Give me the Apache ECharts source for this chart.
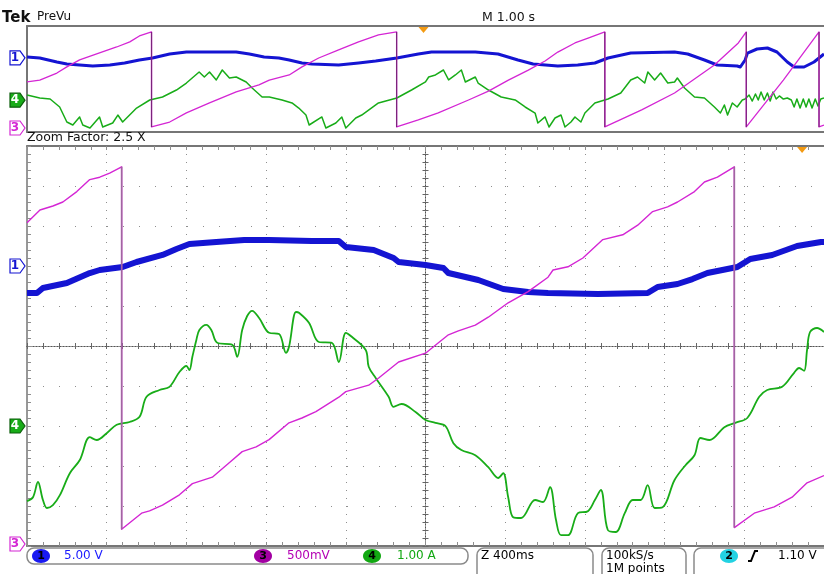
<!DOCTYPE html>
<html>
<head>
<meta charset="utf-8">
<script src="https://cdn.jsdelivr.net/npm/echarts@6/dist/echarts.min.js"></script>
<style>
  html, body { margin: 0; padding: 0; background: #ffffff; }
  #scope { width: 824px; height: 574px; }
</style>
</head>
<body>
<div id="scope"></div>
<script>
// ---- Channel settings: units per division and marker offset (divisions) ----
const CH1 = { name: '1', scale: 5.0, offset: 2, color: '#1414d2', text: '5.00 V' };
const CH3 = { name: '3', scale: 0.5, offset: -5, color: '#d426d4', text: '500mV' };
const CH4 = { name: '4', scale: 1.0, offset: -2, color: '#18ac18', text: '1.00 A' };

// Horizontal settings
const recordSpan = [-5, 5];    // M 1.00 s/div, seconds around trigger
const zoomSpan = [-2, 2];      // Z 400ms/div, seconds around zoom centre
const recordDiv = 1;
const zoomDiv = 0.4;
const triggerInZoom = 1.89;    // trigger instant seen inside the zoom window (s)

// ---- Zoomed traces: [time s, value] ----
const zoomCh1 = [
  [-2.0,-3.38],[-1.95,-3.38],[-1.92,-2.75],[-1.80,-2.13],[-1.685,-0.88],[-1.635,-0.5],
  [-1.52,-0.13],[-1.45,0.5],[-1.32,1.38],[-1.25,2.13],[-1.185,2.75],[-1.05,3.0],
  [-0.91,3.25],[-0.785,3.25],[-0.57,3.13],[-0.435,3.13],[-0.40,2.38],[-0.26,2.0],
  [-0.16,1.0],[-0.135,0.5],[0,0.13],[0.09,-0.25],[0.115,-0.88],[0.265,-1.75],
  [0.39,-2.88],[0.515,-3.25],[0.615,-3.38],[0.865,-3.5],[1.115,-3.38],[1.165,-2.63],
  [1.265,-2.25],[1.34,-1.63],[1.415,-0.88],[1.565,-0.13],[1.63,0.88],[1.74,1.38],
  [1.865,2.5],[1.985,3.0],[2.0,3.0]
];
const zoomCh3 = [
  [-2.0,4.04],[-1.935,4.2],[-1.87,4.25],[-1.82,4.3],[-1.75,4.43],[-1.685,4.58],
  [-1.635,4.61],[-1.585,4.66],[-1.525,4.74],[-1.525,0.21],[-1.425,0.41],[-1.385,0.44],
  [-1.32,0.51],[-1.235,0.64],[-1.17,0.78],[-1.07,0.86],[-0.985,1.04],[-0.92,1.18],
  [-0.85,1.24],[-0.785,1.33],[-0.685,1.54],[-0.62,1.6],[-0.55,1.68],[-0.435,1.86],
  [-0.40,1.93],[-0.285,2.01],[-0.235,2.1],[-0.135,2.3],[0,2.41],[0.065,2.54],
  [0.115,2.64],[0.165,2.69],[0.25,2.76],[0.315,2.86],[0.415,3.04],[0.515,3.18],
  [0.615,3.36],[0.64,3.45],[0.715,3.49],[0.79,3.6],[0.89,3.83],[0.99,3.89],
  [1.065,4.01],[1.14,4.18],[1.215,4.24],[1.265,4.3],[1.35,4.43],[1.40,4.55],
  [1.465,4.61],[1.55,4.74],[1.55,0.23],[1.65,0.41],[1.75,0.49],[1.84,0.61],
  [1.915,0.79],[2.0,0.88]
];
const zoomCh4 = [
  [-2.0,-1.88],[-1.97,-1.78],[-1.945,-1.4],[-1.92,-1.85],[-1.90,-2.05],[-1.87,-1.98],
  [-1.835,-1.73],[-1.785,-1.18],[-1.735,-0.85],[-1.685,-0.28],[-1.65,-0.35],[-1.60,-0.18],
  [-1.55,0.03],[-1.485,0.1],[-1.435,0.23],[-1.40,0.73],[-1.335,0.9],[-1.285,0.98],
  [-1.235,1.35],[-1.20,1.5],[-1.185,1.4],[-1.17,1.73],[-1.15,2.15],[-1.135,2.4],
  [-1.10,2.53],[-1.075,2.4],[-1.045,2.08],[-0.97,2.03],[-0.945,1.73],[-0.92,2.4],
  [-0.895,2.75],[-0.87,2.88],[-0.835,2.7],[-0.785,2.33],[-0.735,2.3],[-0.70,1.83],
  [-0.685,1.98],[-0.65,2.85],[-0.635,2.83],[-0.585,2.58],[-0.535,2.1],[-0.47,2.08],
  [-0.435,1.6],[-0.40,2.33],[-0.37,2.23],[-0.30,1.9],[-0.285,1.48],[-0.25,1.2],
  [-0.185,0.73],[-0.16,0.48],[-0.12,0.55],[-0.05,0.35],[0,0.15],[0.05,0.08],
  [0.10,0],[0.14,-0.43],[0.18,-0.6],[0.25,-0.73],[0.315,-1.03],[0.365,-1.3],
  [0.39,-1.18],[0.415,-1.78],[0.44,-2.28],[0.48,-2.3],[0.55,-1.85],[0.59,-1.9],
  [0.625,-1.53],[0.655,-2.35],[0.68,-2.73],[0.715,-2.73],[0.765,-2.18],[0.815,-2.13],
  [0.85,-1.85],[0.88,-1.6],[0.915,-2.6],[0.955,-2.65],[1.0,-2.18],[1.04,-1.85],
  [1.08,-1.85],[1.115,-1.48],[1.15,-2.05],[1.19,-2.03],[1.25,-1.35],[1.305,-0.98],
  [1.35,-0.73],[1.38,-0.3],[1.425,-0.35],[1.50,-0.03],[1.555,0.08],[1.615,0.2],
  [1.675,0.73],[1.715,0.9],[1.79,0.98],[1.85,1.33],[1.875,1.45],[1.90,1.38],
  [1.915,1.9],[1.93,2.35],[1.965,2.45],[2.0,2.35]
];

// ---- Full record traces: [time s, value] ----
const recCh1 = [
  [-5.0,0.38],[-4.84,-0.09],[-4.625,-1.98],[-4.5,-2.92],[-4.34,-3.4],[-4.175,-3.87],
  [-3.96,-3.4],[-3.775,-2.45],[-3.59,-1.04],[-3.425,-0.09],[-3.21,1.79],[-3.0,2.74],
  [-2.71,2.74],[-2.375,2.74],[-2.21,1.79],[-2.025,0.38],[-1.84,-0.09],[-1.71,-1.04],
  [-1.55,-2.45],[-1.425,-2.92],[-1.09,-3.4],[-0.84,-2.45],[-0.625,-1.51],[-0.36,-0.09],
  [-0.09,1.79],[0.075,2.74],[0.625,2.74],[0.91,1.79],[1.16,-1.04],[1.35,-2.92],
  [1.66,-3.87],[1.91,-3.4],[2.125,-2.45],[2.29,-0.09],[2.575,2.26],[3.125,2.74],
  [3.29,1.79],[3.5,-1.04],[3.66,-3.4],[3.91,-3.87],[3.95,-4.34],[4.01,-1.04],
  [4.04,2.26],[4.16,4.15],[4.29,4.62],[4.41,2.74],[4.54,-1.98],[4.625,-4.34],
  [4.75,-4.34],[4.875,-1.98],[5.0,1.79]
];
const recCh3 = [
  [-5.0,2.36],[-4.84,2.45],[-4.625,2.78],[-4.5,3.07],[-4.34,3.4],[-4.09,3.73],
  [-3.875,4.01],[-3.71,4.25],[-3.59,4.53],[-3.4375,4.72],[-3.4375,0.24],[-3.21,0.47],
  [-3.0,0.9],[-2.71,1.37],[-2.375,1.89],[-2.09,2.22],[-1.96,2.45],[-1.71,2.69],
  [-1.55,3.07],[-1.34,3.49],[-1.09,3.87],[-0.84,4.25],[-0.59,4.58],[-0.3625,4.72],
  [-0.3625,0.24],[-0.09,0.57],[0.16,0.9],[0.54,1.51],[0.79,1.93],[1.04,2.45],
  [1.29,2.92],[1.5,3.35],[1.66,3.77],[1.875,4.2],[2.04,4.43],[2.25,4.72],
  [2.25,0.24],[2.7125,1.04],[3.125,1.84],[3.625,3.16],[3.925,4.2],[4.025,4.72],
  [4.025,0.24],[4.49,2.45],[4.9375,4.72],[4.9375,0.24],[5.0,0.33]
];
const recCh4 = [
  [-5.0,0.49],[-4.84,0.21],[-4.71,0.11],[-4.59,-0.64],[-4.5,-2.06],[-4.425,-2.34],
  [-4.34,-1.58],[-4.3,-2.34],[-4.21,-2.62],[-4.09,-1.58],[-4.05,-2.53],[-3.925,-2.15],
  [-3.86,-1.4],[-3.8,-2.06],[-3.625,-0.74],[-3.46,0.02],[-3.3,0.3],[-3.125,0.96],
  [-3.0,1.62],[-2.84,2.66],[-2.775,2.19],[-2.71,2.66],[-2.625,1.91],[-2.55,2.85],
  [-2.46,2.09],[-2.375,2.19],[-2.25,1.72],[-2.175,1.15],[-2.05,0.3],[-1.96,0.3],
  [-1.8,0.02],[-1.675,-0.26],[-1.59,-0.74],[-1.5,-1.4],[-1.46,-2.34],[-1.3,-1.58],
  [-1.25,-2.62],[-1.125,-2.15],[-1.05,-1.58],[-1.0,-2.62],[-0.875,-1.68],[-0.8,-1.4],
  [-0.59,-0.26],[-0.36,0.21],[-0.175,0.96],[0,1.72],[0.04,2.19],[0.125,2.38],
  [0.225,2.85],[0.29,1.91],[0.375,2.38],[0.45,2.85],[0.5,1.72],[0.625,2.19],
  [0.66,1.62],[0.79,0.96],[0.95,0.3],[1.125,0.02],[1.25,-0.64],[1.375,-1.21],
  [1.41,-2.15],[1.5,-1.58],[1.55,-2.53],[1.625,-1.68],[1.7,-1.4],[1.75,-2.53],
  [1.825,-2.06],[1.875,-1.58],[1.95,-2.06],[2.0,-1.21],[2.125,-0.26],[2.29,0.11],
  [2.45,0.68],[2.575,1.91],[2.66,2.19],[2.75,1.62],[2.79,2.66],[2.875,1.91],
  [2.95,2.57],[3.04,1.62],[3.125,1.72],[3.16,2.09],[3.25,1.15],[3.375,0.3],
  [3.5,0.21],[3.625,-0.64],[3.7,-1.21],[3.75,-0.45],[3.79,-1.4],[3.85,-0.26],
  [3.91,-0.64],[3.975,0.02],[4.01,0.11],[4.06,0.49],[4.1,-0.08],[4.14,0.58],
  [4.175,0.02],[4.21,0.77],[4.25,0.02],[4.29,0.68],[4.325,-0.08],[4.36,0.77],
  [4.4,0.11],[4.44,0.4],[4.49,0.11],[4.54,0.21],[4.59,0.02],[4.625,-0.64],
  [4.66,0.11],[4.7,-0.74],[4.74,0.11],[4.775,-0.64],[4.81,0.11],[4.85,-0.74],
  [4.89,0.11],[4.925,-0.55],[4.96,0.11],[5.0,0.21]
];

// ---- Helpers ----
const FONT = '"DejaVu Sans", Verdana, sans-serif';

// Convert a trace to screen divisions using the channel scale and offset
function toDiv(points, ch) {
  return points.map(([t, v]) => [t, v === '-' ? '-' : v / ch.scale + ch.offset]);
}
// Vertical retrace segments (two consecutive samples at the same instant)
function retraces(points) {
  const out = [];
  for (let i = 1; i < points.length; i++) {
    if (points[i][0] === points[i - 1][0]) {
      out.push(points[i - 1], points[i], [points[i][0], '-']);
    }
  }
  return out;
}

const GRAT = '#8e8e8e';
const BORDER = '#767676';

function borderAxis(grid, pos, span, interval, withTicks, splitType) {
  return {
    type: 'value', gridIndex: grid, position: pos, min: span[0], max: span[1], interval: interval,
    axisLine: { show: true, onZero: false, lineStyle: { color: BORDER, width: 2 } },
    axisTick: { show: withTicks, inside: true, length: 4, lineStyle: { color: GRAT } },
    minorTick: { show: withTicks, splitNumber: 5, length: 4, lineStyle: { color: GRAT } },
    axisLabel: { show: false },
    splitLine: splitType ? { show: true, lineStyle: { color: GRAT, width: 1, type: splitType } } : { show: false }
  };
}
function centreAxis(grid, span, interval, zeroIndex, inside) {
  return {
    type: 'value', gridIndex: grid, min: span[0], max: span[1], interval: interval,
    axisLine: { show: true, onZero: true, onZeroAxisIndex: zeroIndex,
      lineStyle: { color: '#555555', width: 1, type: [1, 2] } },
    axisTick: { show: true, inside: inside, length: 3, lineStyle: { color: '#666666' } },
    minorTick: { show: true, splitNumber: 5, length: 3, lineStyle: { color: '#666666' } },
    axisLabel: { show: false },
    splitLine: { show: false }
  };
}

const xAxes = [
  borderAxis(0, 'bottom', recordSpan, recordDiv, false, null),          // 0
  borderAxis(0, 'top', recordSpan, recordDiv, false, null),             // 1
  borderAxis(1, 'bottom', zoomSpan, zoomDiv, true, [1, 7]),             // 2
  borderAxis(1, 'top', zoomSpan, zoomDiv, true, null),                  // 3
  centreAxis(1, zoomSpan, zoomDiv, 1, true),                            // 4
  centreAxis(1, zoomSpan, zoomDiv, 1, false)                            // 5
];
const yAxes = [
  borderAxis(0, 'left', [-5, 5], 1, false, null),                       // 0
  borderAxis(1, 'left', [-5, 5], 1, true, [1, 15]),                     // 1
  centreAxis(1, [-5, 5], 1, 2, true),                                   // 2
  centreAxis(1, [-5, 5], 1, 2, false)                                   // 3
];
yAxes[1].axisLine.lineStyle.width = 1.5;

function trace(points, ch, xi, yi, width, z, smooth) {
  return {
    type: 'line', xAxisIndex: xi, yAxisIndex: yi, data: toDiv(points, ch),
    showSymbol: false, symbol: 'none', silent: true, z: z, clip: true,
    smooth: smooth || false,
    lineStyle: { color: ch.color, width: width, join: 'round' }
  };
}
function retraceSeries(points, ch, xi, yi, color, width) {
  return {
    type: 'line', xAxisIndex: xi, yAxisIndex: yi, data: retraces(toDiv(points, ch)),
    showSymbol: false, symbol: 'none', silent: true, z: 6, connectNulls: false,
    lineStyle: { color: color, width: width }
  };
}

const chart = echarts.init(document.getElementById('scope'), null, { renderer: 'canvas' });
chart.setOption({
  animation: false,
  backgroundColor: '#ffffff',
  grid: [
    { left: 27, top: 26, width: 800, height: 106 },
    { left: 27, top: 146, width: 800, height: 400 }
  ],
  xAxis: xAxes,
  yAxis: yAxes,
  series: [
    trace(recCh1, CH1, 0, 0, 3, 3),
    trace(recCh4, CH4, 0, 0, 1.5, 4),
    trace(recCh3, CH3, 0, 0, 1.3, 5),
    retraceSeries(recCh3, CH3, 0, 0, '#7c237c', 1.2),
    trace(zoomCh1, CH1, 2, 1, 6, 3),
    trace(zoomCh4, CH4, 2, 1, 1.8, 4, 0.35),
    trace(zoomCh3, CH3, 2, 1, 1.4, 5),
    retraceSeries(zoomCh3, CH3, 2, 1, '#a066a0', 1.6)
  ]
});

// ---- Scope furniture: markers, headings and the status bar ----
function px(xi, yi, t, d) { return chart.convertToPixel({ xAxisIndex: xi, yAxisIndex: yi }, [t, d]); }

function chanMarker(y, ch, filled) {
  const pts = [[10, y - 7], [20, y - 7], [25, y], [20, y + 7], [10, y + 7]];
  return [
    { type: 'polygon', z: 20, shape: { points: pts },
      style: { fill: filled ? ch.color : '#ffffff', stroke: filled ? '#0b5e0b' : ch.color, lineWidth: 1.2 } },
    { type: 'text', z: 21, x: 15, y: y, style: { text: ch.name, fill: filled ? '#ffffff' : ch.color,
      font: 'bold 12px ' + FONT, align: 'center', verticalAlign: 'middle' } }
  ];
}
function badge(cx, cy, label, fill) {
  return [
    { type: 'ellipse', z: 20, shape: { cx: cx, cy: cy, rx: 9, ry: 7 }, style: { fill: fill } },
    { type: 'text', z: 21, x: cx, y: cy + 0.5, style: { text: label, fill: '#000000',
      font: 'bold 11px ' + FONT, align: 'center', verticalAlign: 'middle' } }
  ];
}
function label(x, y, text, fill, font) {
  return { type: 'text', z: 20, x: x, y: y,
    style: { text: text, fill: fill || '#000000', font: font || ('12px ' + FONT), verticalAlign: 'middle' } };
}
function roundBox(x, y, w, h) {
  return { type: 'rect', z: 15, shape: { x: x, y: y, width: w, height: h, r: 7 },
    style: { fill: 'none', stroke: '#8a8a8a', lineWidth: 1.5 } };
}
function trigMark(x, y) {
  return { type: 'polygon', z: 22, shape: { points: [[x - 5, y], [x + 5, y], [x, y + 6]] },
    style: { fill: '#f39a12' } };
}

const g = [];
[[CH1, false], [CH4, true], [CH3, false]].forEach(([ch, filled]) => {
  const pr = px(0, 0, recordSpan[0], ch.offset);
  const pz = px(2, 1, zoomSpan[0], ch.offset);
  g.push(...chanMarker(Math.min(pr[1], 128), ch, filled));
  g.push(...chanMarker(Math.min(pz[1], 544), ch, filled));
});
const tr = px(0, 0, 0, 5);
const tz = px(2, 1, triggerInZoom, 5);
g.push(trigMark(tr[0] - 2, tr[1] + 1), trigMark(tz[0], tz[1] + 1));

g.push(label(2, 18, 'Tek', '#111111', 'bold 15px ' + FONT));
g.push(label(37, 17, 'PreVu', '#111111', '12px ' + FONT));
g.push(label(482, 18, 'M 1.00 s', '#111111', '12.5px ' + FONT));
g.push(label(27, 138, 'Zoom Factor: 2.5 X', '#111111', '12.5px ' + FONT));

g.push({ type: 'rect', z: 14, shape: { x: 0, y: 547, width: 824, height: 27 }, style: { fill: '#ffffff' } });
g.push(roundBox(27, 548, 441, 16));
g.push(roundBox(477, 548, 116, 40));
g.push(roundBox(602, 548, 84, 40));
g.push(roundBox(694, 548, 150, 40));
g.push(...badge(41, 556, '1', '#1a1af2'));
g.push(label(64, 556, CH1.text, '#1a1aff'));
g.push(...badge(263, 556, '3', '#a200a2'));
g.push(label(287, 556, CH3.text, '#b400b4'));
g.push(...badge(372, 556, '4', '#12a812'));
g.push(label(397, 556, CH4.text, '#12a812'));
g.push(label(481, 556, 'Z 400ms'));
g.push(label(606, 556, '100kS/s'));
g.push(label(606, 569, '1M points'));
g.push(...badge(729, 556, '2', '#22d2e2'));
g.push({ type: 'polyline', z: 20, shape: { points: [[748, 561], [751, 561], [755, 551], [758, 551]] },
  style: { stroke: '#000000', lineWidth: 2, fill: null } });
g.push(label(778, 556, '1.10 V'));

chart.setOption({ graphic: g });
</script>
</body>
</html>
